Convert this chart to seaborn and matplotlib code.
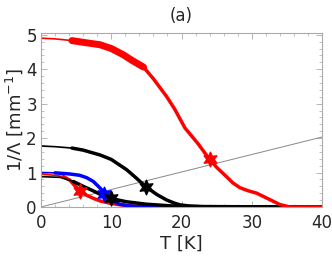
import numpy as np
import pandas as pd
import matplotlib
matplotlib.use('Agg')
import matplotlib.pyplot as plt
from matplotlib.ticker import MultipleLocator
import seaborn as sns

# curves: temperature [K] and 1/Lambda [mm^-1]
red_hi_T = [0, 2, 4.4, 6, 8.4, 10, 11.7, 13, 14.6, 16, 17.9, 19, 20.5, 22.3, 24.0, 25, 26.4, 27.3, 28.3, 29.5, 30.7, 32, 34, 35.4, 40]
red_hi_v = [4.9, 4.88, 4.83, 4.78, 4.71, 4.6, 4.42, 4.25, 4.06, 3.72, 3.2, 2.85, 2.29, 1.85, 1.38, 1.15, 0.88, 0.7, 0.56, 0.47, 0.40, 0.27, 0.07, 0, 0]
black_hi_T = [0, 2, 4.4, 6, 8.4, 10, 12.2, 13.5, 14.9, 16.5, 17.9, 19, 19.8, 21, 23, 40]
black_hi_v = [1.77, 1.75, 1.71, 1.65, 1.51, 1.38, 1.08, 0.85, 0.59, 0.36, 0.2, 0.11, 0.06, 0.03, 0.01, 0]
blue_T = [0, 2, 4, 5.5, 6.5, 7.45, 8.4, 9.1, 9.8, 10.5, 11.2, 12.5, 14, 40]
blue_v = [1.0, 0.99, 0.96, 0.92, 0.85, 0.74, 0.55, 0.4, 0.26, 0.15, 0.08, 0.03, 0.01, 0]
black_lo_T = [0, 2.7, 4.6, 6, 7.4, 8.6, 9.9, 11, 12.2, 15, 17.9, 20, 40]
black_lo_v = [0.88, 0.86, 0.74, 0.6, 0.47, 0.35, 0.26, 0.2, 0.15, 0.08, 0.04, 0.01, 0]
red_lo_T = [0, 2, 3.2, 4.1, 4.8, 5.55, 6.5, 7.45, 8.5, 9.8, 11, 12.2, 14, 40]
red_lo_v = [0.95, 0.92, 0.88, 0.78, 0.62, 0.47, 0.34, 0.25, 0.17, 0.11, 0.07, 0.04, 0.01, 0]

# where the measured points start (before this only the fit is drawn)
data_start = {'red_hi': 4.4, 'black_hi': 4.4, 'blue': 2, 'black_lo': 4.6, 'red_lo': 3.2}

# stars
star_T = [5.6, 8.9, 9.9, 14.9, 24.0]
star_v = [0.47, 0.38, 0.26, 0.59, 1.38]
star_c = ['red', 'blue', 'black', 'black', 'red']

gray_T = [0, 40]
gray_v = [0, 2.03]

sns.set_style('ticks')
plt.rcParams['font.family'] = ['DejaVu Sans']

fig = plt.figure(figsize=(3.32, 2.6), dpi=100)
ax = fig.add_axes([0.1235, 0.204, 0.8465, 0.669])

sns.lineplot(x=gray_T, y=gray_v, ax=ax, color='#888888', linewidth=0.7)

curves = [('red_lo', red_lo_T, red_lo_v, 'red'),
          ('blue', blue_T, blue_v, 'blue'),
          ('black_lo', black_lo_T, black_lo_v, 'black'),
          ('black_hi', black_hi_T, black_hi_v, 'black'),
          ('red_hi', red_hi_T, red_hi_v, 'red')]
for name, T, v, c in curves:
    df = pd.DataFrame({'T': T, 'v': v})
    sns.lineplot(data=df, x='T', y='v', ax=ax, color=c, linewidth=1.2)
    d = df[df['T'] >= data_start[name]]
    sns.lineplot(data=d, x='T', y='v', ax=ax, color=c, linewidth=2.5)
    if name == 'red_hi':
        dd = d[d['T'] <= 15]
        sns.lineplot(data=dd, x='T', y='v', ax=ax, color=c, linewidth=5.0)

for t, v, c in zip(star_T, star_v, star_c):
    ax.plot(t, v, marker=(6, 1, 0), color=c, markersize=11, markeredgewidth=0.8, zorder=5)

ax.set_xlim(0, 40)
ax.set_ylim(0, 5.05)
ax.xaxis.set_major_locator(MultipleLocator(10))
ax.xaxis.set_minor_locator(MultipleLocator(2))
ax.yaxis.set_major_locator(MultipleLocator(1))
ax.yaxis.set_minor_locator(MultipleLocator(0.2))
ax.tick_params(which='both', direction='in', top=True, right=True, color='#aaaaaa', labelsize=12)
ax.tick_params(axis='x', pad=5)
ax.tick_params(axis='y', pad=3)
ax.tick_params(which='major', length=4, width=0.6)
ax.tick_params(which='minor', length=2, width=0.5)
for s in ax.spines.values():
    s.set_color('#aaaaaa')
    s.set_linewidth(0.8)

ax.set_xlabel('T [K]', fontsize=13, labelpad=2)
ax.set_ylabel('1/\u039b [mm$^{-1}$]', fontsize=13, labelpad=1)
ax.set_title('(a)', fontsize=12, pad=9)

plt.savefig('out.png', dpi=100)
